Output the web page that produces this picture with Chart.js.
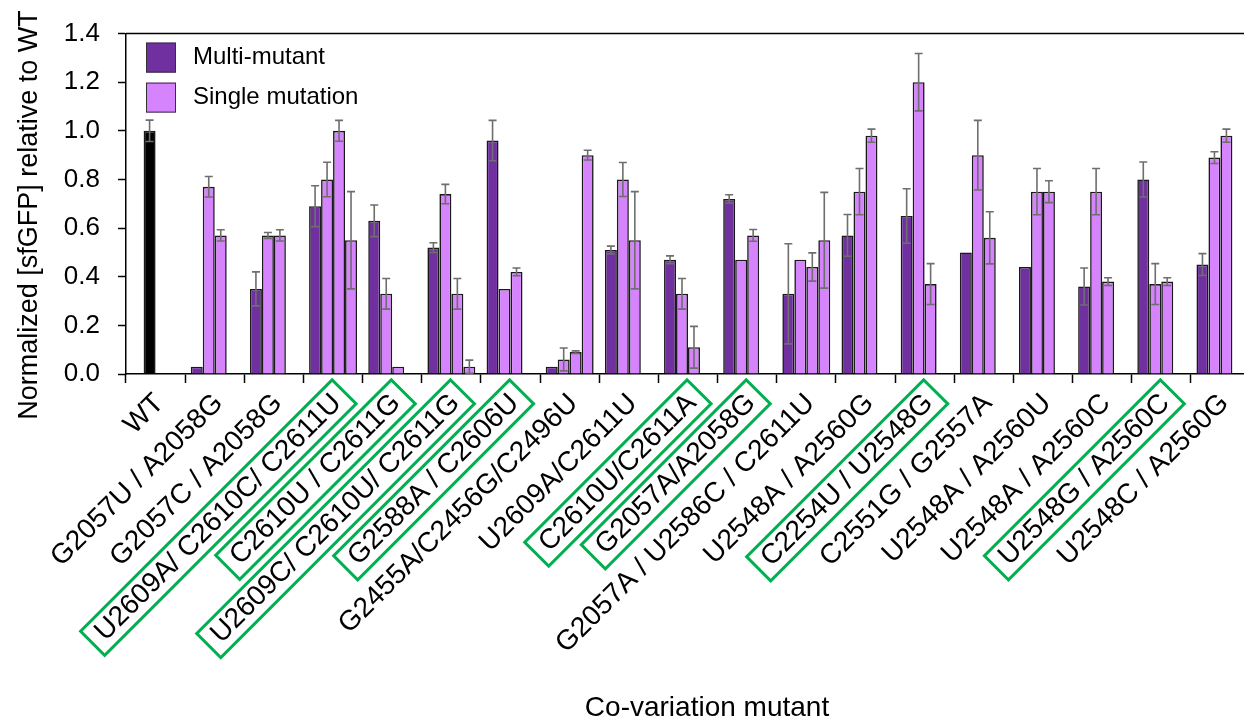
<!DOCTYPE html>
<html>
<head>
<meta charset="utf-8">
<script src="https://cdn.jsdelivr.net/npm/chart.js@4.4.1/dist/chart.umd.min.js"></script>
<style>
html,body{margin:0;padding:0;background:#fff;overflow:hidden;}
#wrap{width:1252px;height:717px;}
</style>
</head>
<body>
<div id="wrap"><canvas id="c" width="1252" height="717"></canvas></div>
<script>
// ---------- data ----------
const categories = [
  "WT", "G2057U / A2058G", "G2057C / A2058G", "U2609A/ C2610C/ C2611U",
  "C2610U / C2611G", "U2609C/ C2610U/ C2611G", "G2588A / C2606U",
  "G2455A/C2456G/C2496U", "U2609A/C2611U", "C2610U/C2611A", "G2057A/A2058G",
  "G2057A / U2586C / C2611U", "U2548A / A2560G", "C2254U / U2548G",
  "C2551G / G2557A", "U2548A / A2560U", "U2548A / A2560C", "U2548G / A2560C",
  "U2548C / A2560G"
];
const highlighted = [false,false,false,true,true,true,true,false,false,true,true,false,false,true,false,false,false,true,false];

const multiMutant   = [null, 0.03, 0.35, 0.69, 0.63, 0.52, 0.96, 0.03, 0.51, 0.47, 0.72, 0.33, 0.57, 0.65, 0.50, 0.44, 0.36, 0.80, 0.45];
const multiErr      = [null, 0,    0.07, 0.084,0.065,0.02, 0.083,0,    0.016,0.016,0.017,0.206,0.086,0.112,0,    0,    0.076,0.072,0.045];
const single1       = [1.00, 0.77, 0.57, 0.80, 0.33, 0.74, 0.35, 0.06, 0.80, 0.33, 0.47, 0.47, 0.75, 1.20, 0.90, 0.75, 0.75, 0.37, 0.89];
const single1Err    = [0.044,0.042,0.012,0.071,0.063,0.04, 0,    0.047,0.07, 0.063,0,    0,    0.095,0.118,0.143,0.095,0.095,0.084,0.024];
const single2       = [null, 0.57, 0.57, 1.00, 0.03, 0.33, 0.42, 0.09, 0.55, 0.11, 0.57, 0.44, 0.98, 0.37, 0.56, 0.75, 0.38, 0.38, 0.98];
const single2Err    = [null, 0.023,0.023,0.043,0,    0.063,0.016,0.005,0.2,  0.086,0.024,0.058,0.027,0.084,0.107,0.045,0.016,0.016,0.027];
const single3       = [null, null, null, 0.55, null, 0.03, null, 0.90, null, null, null, 0.55, null, null, null, null, null, null, null];
const single3Err    = [null, null, null, 0.2,  null, 0.027,null, 0.02, null, null, null, 0.197,null, null, null, null, null, null, null];
const yTicks = [0, 0.2, 0.4, 0.6, 0.8, 1.0, 1.2, 1.4];

// ---------- style ----------
const FONT = "'Liberation Sans', Arial, Helvetica, sans-serif";
const C_MULTI = '#7030a0';
const C_SINGLE = '#d683fe';
const C_WT = '#000000';
const errorSets = [multiErr, single1Err, single2Err, single3Err];

const errorBarPlugin = {
  id: 'errorBars',
  afterDatasetsDraw(chart) {
    const ctx = chart.ctx, y = chart.scales.y;
    chart.data.datasets.forEach((ds, di) => {
      const meta = chart.getDatasetMeta(di);
      const errs = errorSets[di];
      meta.data.forEach((bar, i) => {
        const v = ds.data[i], e = errs[i];
        if (v == null || !e) return;
        const yt = y.getPixelForValue(v + e);
        const yb = y.getPixelForValue(Math.max(0, v - e));
        ctx.save();
        ctx.strokeStyle = '#6e6e6e';
        ctx.lineWidth = 1.6;
        ctx.beginPath();
        ctx.moveTo(bar.x, yt); ctx.lineTo(bar.x, yb);
        ctx.moveTo(bar.x - 4, yt); ctx.lineTo(bar.x + 4, yt);
        ctx.moveTo(bar.x - 4, yb); ctx.lineTo(bar.x + 4, yb);
        ctx.stroke();
        ctx.restore();
      });
    });
  }
};

const decorPlugin = {
  id: 'decor',
  afterDraw(chart) {
    const ctx = chart.ctx, a = chart.chartArea;
    ctx.save();
    // frame top / right
    ctx.strokeStyle = '#000'; ctx.lineWidth = 1.5;
    ctx.beginPath();
    ctx.moveTo(a.left, a.top); ctx.lineTo(a.right, a.top); ctx.lineTo(a.right, a.bottom);
    ctx.stroke();

    // legend (inside plot)
    const seen = new Set();
    let row = 0;
    chart.data.datasets.forEach(ds => {
      if (seen.has(ds.label)) return;
      seen.add(ds.label);
      const bx = a.left + 20, by = a.top + 9 + row * 40;
      ctx.fillStyle = ds.legendColor;
      ctx.fillRect(bx, by, 30, 30);
      ctx.strokeStyle = '#333'; ctx.lineWidth = 1;
      ctx.strokeRect(bx + 0.5, by + 0.5, 29, 29);
      ctx.fillStyle = '#000';
      ctx.font = '24px ' + FONT;
      ctx.textAlign = 'left'; ctx.textBaseline = 'middle';
      ctx.fillText(ds.label, bx + 47, by + 15);
      row++;
    });

    // green boxes around highlighted tick labels
    const xs = chart.scales.x;
    const items = xs.getLabelItems();
    items.forEach((it, i) => {
      if (!highlighted[i]) return;
      const o = it.options;
      ctx.save();
      ctx.font = it.font.string;
      const w = ctx.measureText(it.label).width;
      ctx.translate(o.translation[0], o.translation[1]);
      ctx.rotate(o.rotation);
      ctx.strokeStyle = '#00b050'; ctx.lineWidth = 3;
      ctx.strokeRect(-w - 10, it.textOffset - 17, w + 20, 34);
      ctx.restore();
    });

    // axis titles
    ctx.fillStyle = '#000';
    ctx.font = '28px ' + FONT;
    ctx.textAlign = 'center'; ctx.textBaseline = 'alphabetic';
    ctx.fillText('Co-variation mutant', 707, 716);
    ctx.save();
    ctx.translate(37, 215);
    ctx.rotate(-Math.PI / 2);
    ctx.font = '27px ' + FONT;
    ctx.fillText('Normalized [sfGFP] relative to WT', 0, 0);
    ctx.restore();
    ctx.restore();
  }
};

new Chart(document.getElementById('c'), {
  type: 'bar',
  data: {
    labels: categories,
    datasets: [
      { label: 'Multi-mutant', data: multiMutant, backgroundColor: C_MULTI, legendColor: C_MULTI,
        borderColor: '#1a1a1a', borderWidth: 1.6 },
      { label: 'Single mutation', data: single1, legendColor: C_SINGLE,
        backgroundColor: ctx => ctx.dataIndex === 0 ? C_WT : C_SINGLE,
        borderColor: '#1a1a1a', borderWidth: 1.6 },
      { label: 'Single mutation', data: single2, backgroundColor: C_SINGLE, legendColor: C_SINGLE,
        borderColor: '#1a1a1a', borderWidth: 1.6 },
      { label: 'Single mutation', data: single3, backgroundColor: C_SINGLE, legendColor: C_SINGLE,
        borderColor: '#1a1a1a', borderWidth: 1.6 }
    ]
  },
  options: {
    responsive: false,
    animation: false,
    events: [],
    categoryPercentage: 0.81,
    barPercentage: 1.0,
    layout: { padding: { top: 31, right: 2, left: 0, bottom: 0 } },
    plugins: { legend: { display: false }, tooltip: { enabled: false } },
    scales: {
      x: {
        offset: true,
        grid: { offset: true, drawOnChartArea: false, drawTicks: true, tickLength: 9, color: '#000', tickWidth: 1.5 },
        border: { display: true, color: '#000', width: 1.5 },
        ticks: { autoSkip: false, minRotation: 45, maxRotation: 45, padding: 4, labelOffset: 4, color: '#000',
                 font: { family: FONT, size: 28 } },
        afterFit(scale) { scale.height = 343; }
      },
      y: {
        min: 0, max: 1.4,
        afterBuildTicks(scale) { scale.ticks = yTicks.map(v => ({ value: v })); },
        grid: { drawOnChartArea: false, drawTicks: true, tickLength: 8, color: '#000', tickWidth: 1.5 },
        border: { display: true, color: '#000', width: 1.5 },
        ticks: { padding: 18, color: '#000', font: { family: FONT, size: 26 },
                 callback: v => Number(v).toFixed(1) },
        afterFit(scale) { scale.width = 126; }
      }
    }
  },
  plugins: [errorBarPlugin, decorPlugin]
});
</script>
</body>
</html>
